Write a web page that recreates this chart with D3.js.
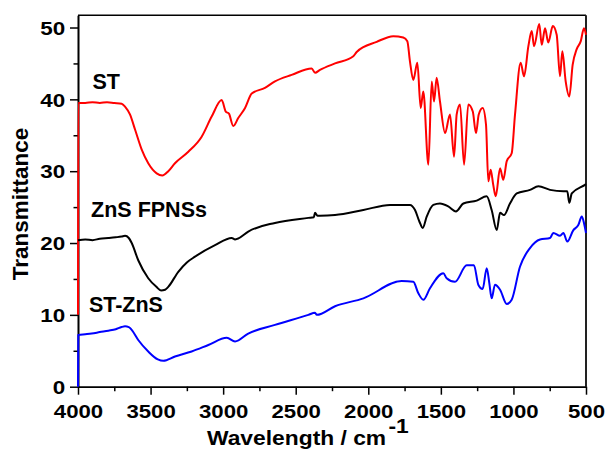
<!DOCTYPE html>
<html><head><meta charset="utf-8">
<script src="https://cdn.jsdelivr.net/npm/d3@7"></script>
<style>body{margin:0;background:#fff} svg{display:block}</style>
</head><body><svg id="c" width="607" height="451"></svg>
<script>
// ---- data: [wavenumber (cm-1), transmittance] ----
const stData = [[4000,10],[3998,39.5],[3950,39.5],[3900,39.6],[3850,39.5],[3800,39.6],[3750,39.5],[3699,39.4],[3676,39.0],[3642,37.9],[3607,35.8],[3561,33.0],[3516,31.1],[3458,29.7],[3419,29.4],[3378,30.0],[3332,31.1],[3240,32.7],[3148,34.8],[3079,37.6],[3010,39.9],[2982,38.3],[2960,38.0],[2930,36.3],[2896,37.4],[2849,38.8],[2803,40.8],[2712,41.6],[2643,42.5],[2528,43.4],[2390,44.3],[2367,43.7],[2333,44.1],[2229,45.0],[2103,46.0],[2080,46.6],[1942,48.0],[1828,48.8],[1759,48.6],[1731,48.1],[1713,45.3],[1690,42.7],[1662,45.1],[1639,38.8],[1621,41.1],[1586,30.9],[1563,42.5],[1547,39.7],[1529,43.0],[1506,39.7],[1471,35.3],[1437,37.9],[1409,32.0],[1391,37.9],[1368,39.3],[1340,30.9],[1311,39.3],[1280,38.3],[1258,35.3],[1239,37.9],[1212,38.8],[1189,36.5],[1173,28.6],[1157,30.2],[1139,28.1],[1122,26.5],[1092,30.4],[1070,28.8],[1046,31.4],[1012,32.5],[989,37.9],[950,45.1],[927,43.2],[897,47.4],[874,49.5],[858,47.4],[822,50.5],[805,47.6],[782,49.9],[760,47.9],[729,50.2],[702,49.0],[679,43.2],[663,46.7],[640,42.5],[615,40.4],[592,44.8],[564,47.0],[536,48.1],[514,49.9],[500,49.0]];
const znsData = [[4000,20.4],[3950,20.5],[3900,20.4],[3850,20.6],[3791,20.7],[3740,20.8],[3700,20.9],[3676,21.0],[3650,20.7],[3630,20.0],[3585,17.6],[3516,15.1],[3460,13.9],[3428,13.4],[3400,13.5],[3378,13.9],[3309,16.0],[3250,17.3],[3194,18.1],[3056,19.7],[2941,20.7],[2918,20.5],[2900,20.6],[2827,21.6],[2643,22.8],[2413,23.5],[2375,23.6],[2367,24.2],[2350,23.8],[2333,23.8],[2229,23.9],[2034,24.6],[1850,25.3],[1713,25.3],[1678,24.6],[1648,23.0],[1625,22.1],[1597,23.7],[1552,25.3],[1506,25.5],[1449,25.1],[1396,24.4],[1345,25.5],[1253,25.9],[1184,26.5],[1150,24.6],[1115,21.8],[1092,24.2],[1065,23.9],[1024,25.5],[977,26.9],[886,27.4],[828,27.9],[748,27.4],[656,27.2],[629,27.2],[615,25.6],[598,26.9],[507,28.1],[500,28.2]];
const stznsData = [[4000,0],[3998,7.2],[3950,7.3],[3906,7.4],[3850,7.6],[3791,7.8],[3740,8.0],[3700,8.3],[3676,8.4],[3650,8.3],[3630,7.9],[3585,6.5],[3516,4.9],[3450,3.8],[3412,3.6],[3332,4.2],[3217,4.9],[3102,5.8],[2975,6.8],[2918,6.3],[2827,7.4],[2643,8.6],[2413,10.0],[2367,10.3],[2355,10.0],[2229,11.2],[2034,12.3],[1770,14.7],[1690,14.6],[1655,13.0],[1621,12.1],[1575,13.7],[1483,15.8],[1460,15.1],[1403,14.6],[1322,16.9],[1272,16.9],[1242,14.2],[1212,13.6],[1184,16.5],[1166,14.4],[1150,12.3],[1127,14.2],[1092,13.5],[1046,11.5],[1012,12.1],[955,16.7],[886,19.3],[817,20.5],[748,20.7],[725,21.4],[679,21.0],[656,21.4],[629,20.2],[587,21.8],[553,22.5],[529,23.7],[514,22.8],[500,21.4]];
const seriesNames = ["ST","ZnS FPNSs","ST-ZnS"];
const seriesColors = ["#ff0000","#000000","#0000ff"];
const seriesLabelPos = [[3900,41.4],[3910,23.6],[3925,10.4]];
const xTicks = [4000,3500,3000,2500,2000,1500,1000,500];
const xMinor = [3750,3250,2750,2250,1750,1250,750];
const yTicks = [0,10,20,30,40,50];
const yMinor = [5,15,25,35,45];

const svg = d3.select("#c");
const L=78, R=586, T=15.3, B=386.7;
const x = d3.scaleLinear().domain([4000,500]).range([L,R]);
const y = d3.scaleLinear().domain([0,51.7]).range([B,T]);
const FONT = "'Liberation Sans', Arial, sans-serif";

// frame (top, right)
svg.append("line").attr("x1",L).attr("x2",R).attr("y1",T).attr("y2",T).attr("stroke","#000").attr("stroke-width",1.6);
svg.append("line").attr("x1",R).attr("x2",R).attr("y1",T).attr("y2",B).attr("stroke","#222").attr("stroke-width",2);

// axes
function styleAxis(g){ g.select(".domain").attr("stroke","#000").attr("stroke-width",1.6);
  g.selectAll(".tick line").attr("stroke","#000").attr("stroke-width",1.5); }
const gxMinor = svg.append("g").attr("transform",`translate(0,${B})`)
  .call(d3.axisBottom(x).tickValues(xMinor).tickSize(4.5).tickSizeOuter(0).tickFormat(""));
styleAxis(gxMinor);
const gx = svg.append("g").attr("transform",`translate(0,${B})`)
  .call(d3.axisBottom(x).tickValues(xTicks).tickSize(8).tickSizeOuter(0).tickFormat(d3.format("d")));
styleAxis(gx);
gx.selectAll("text").attr("y",18).attr("font-family",FONT).attr("font-weight","bold")
  .attr("font-size",18.5).attr("fill","#000").attr("transform","scale(1.2,1)");
const gyMinor = svg.append("g").attr("transform",`translate(${L},0)`)
  .call(d3.axisLeft(y).tickValues(yMinor).tickSize(4.5).tickSizeOuter(0).tickFormat(""));
styleAxis(gyMinor);
const gy = svg.append("g").attr("transform",`translate(${L},0)`)
  .call(d3.axisLeft(y).tickValues(yTicks).tickSize(8).tickSizeOuter(0).tickFormat(d3.format("d")));
styleAxis(gy);
gy.selectAll("text").attr("x",-10.8).attr("dy","0.35em").attr("font-family",FONT).attr("font-weight","bold")
  .attr("font-size",19).attr("fill","#000").attr("transform","scale(1.18,1)");

// lines
const line = d3.line().x(d=>x(d[0])).y(d=>y(d[1])).curve(d3.curveMonotoneX);
[stData, znsData, stznsData].forEach((data,i)=>{
  svg.append("path").datum(data).attr("d",line).attr("fill","none")
    .attr("stroke",seriesColors[i]).attr("stroke-width",2).attr("stroke-linejoin","round");
});

// series labels
seriesNames.forEach((n,i)=>{
  svg.append("text").attr("x",x(seriesLabelPos[i][0])).attr("y",y(seriesLabelPos[i][1]))
    .attr("font-family",FONT).attr("font-weight","bold").attr("font-size",21.5).attr("fill","#000").text(n);
});

// axis titles
const xt = svg.append("text").attr("transform","translate(207,445) scale(1.17,1)")
  .attr("font-family",FONT).attr("font-weight","bold").attr("font-size",19.5).attr("fill","#000");
xt.append("tspan").text("Wavelength / cm");
xt.append("tspan").attr("dy",-12).attr("dx",2).text("-1");
svg.append("text").attr("transform","translate(28,204) rotate(-90)").attr("text-anchor","middle")
  .attr("font-family",FONT).attr("font-weight","bold").attr("font-size",22.5).attr("fill","#000").text("Transmittance");
</script></body></html>
